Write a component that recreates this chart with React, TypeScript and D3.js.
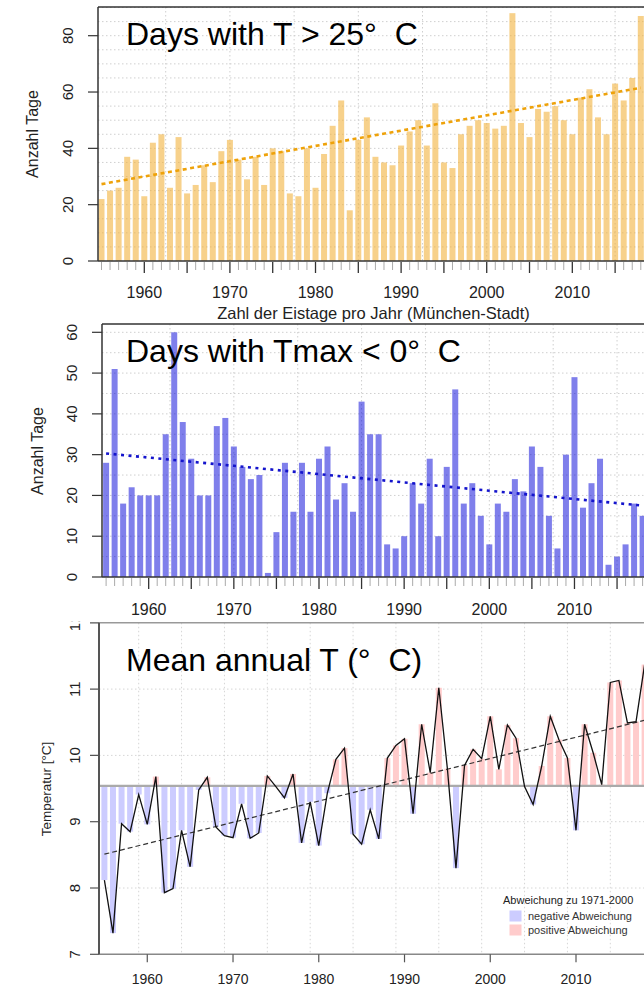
import React from "react";
import * as d3 from "d3";

// one category per year, 1955-2018
const years = d3.range(1955, 2019);

// Sommertage (T > 25 °C) per year
const hotDays = [
  22, 25, 26, 37, 36, 23, 42, 45, 26, 44,
  24, 27, 34, 28, 39, 43, 36, 29, 37, 27,
  40, 39, 24, 23, 40, 26, 38, 48, 57, 18,
  43, 51, 37, 35, 34, 41, 46, 50, 41, 56,
  35, 33, 45, 48, 50, 49, 47, 48, 88, 49,
  44, 54, 53, 55, 50, 45, 58, 61, 51, 45,
  63, 57, 65, 87,
];

// Eistage (Tmax < 0 °C) per year
const iceDays = [
  28, 51, 18, 22, 20, 20, 20, 35, 60, 38,
  29, 20, 20, 37, 39, 32, 27, 24, 25, 1,
  11, 28, 16, 28, 16, 29, 32, 19, 23, 16,
  43, 35, 35, 8, 7, 10, 23, 18, 29, 10,
  27, 46, 18, 23, 15, 8, 18, 16, 24, 21,
  32, 27, 15, 7, 30, 49, 17, 23, 29, 3,
  5, 8, 18, 15,
];

// Jahresmitteltemperatur in °C
const meanTemp = [
  8.12, 7.32, 8.97, 8.85, 9.41, 8.96, 9.68, 7.93, 7.99, 8.87,
  8.32, 9.48, 9.67, 8.92, 8.79, 8.76, 9.27, 8.75, 8.83, 9.69,
  9.53, 9.36, 9.72, 8.68, 9.3, 8.64, 9.43, 9.94, 10.11, 8.81,
  8.66, 9.18, 8.74, 9.96, 10.15, 10.25, 9.12, 10.47, 9.74, 11.02,
  9.8, 8.3, 9.85, 10.09, 9.95, 10.59, 9.79, 10.46, 10.26, 9.53,
  9.26, 9.84, 10.59, 10.24, 9.96, 8.87, 10.47, 10.04, 9.56, 11.1,
  11.13, 10.49, 10.51, 11.37,
];

// trend lines, start and end values
const trendYears = [1955, 2018];
const hotTrend = [27.3, 61.5];
const iceTrend = [30.3, 17.5];
const tempTrend = [8.51, 10.53];
const refMean = 9.54; // Mittel 1971-2000

const hotTicks = [0, 20, 40, 60, 80];
const iceTicks = [0, 10, 20, 30, 40, 50, 60];
const tempTicks = [7, 8, 9, 10, 11, 12];
const decadeLabels = [1960, 1970, 1980, 1990, 2000, 2010];

const FONT = "'Liberation Sans', Arial, Helvetica, sans-serif";
const W = 644;
const H = 987;

function BarPanel(props) {
  const {
    values, trend, ticks, title, fill, trendColor, dash,
    left, top, cx0, cx1, base, tickTop, tickTopPx,
    xLabelY, yTickX, yLabelX, yLabelMid, titleY,
  } = props;

  const x = d3.scaleLinear().domain([1955, 2018]).range([cx0, cx1]);
  const y = d3.scaleLinear().domain([0, tickTop]).range([base, tickTopPx]);
  const barW = 6;
  const hGrid = d3.range(5, y.invert(top), 5);
  const vGrid = d3.range(1962.5, 2019, 7.5);
  const line = d3
    .line<number>()
    .x((d, i) => x(trendYears[i]))
    .y((d) => y(d));

  return (
    <g fontFamily={FONT}>
      {hGrid.map((v) => (
        <line key={"h" + v} x1={left} x2={W} y1={y(v)} y2={y(v)}
          stroke="#cfcfcf" strokeWidth={1} strokeDasharray="1.5,2.5" />
      ))}
      {vGrid.map((v) => (
        <line key={"v" + v} x1={x(v)} x2={x(v)} y1={top} y2={base}
          stroke="#cfcfcf" strokeWidth={1} strokeDasharray="1.5,2.5" />
      ))}
      {years.map((yr, i) => (
        <rect key={yr} x={x(yr) - barW / 2} y={y(values[i])} width={barW}
          height={base - y(values[i])} fill={fill} />
      ))}
      <path d={line(trend) || ""} fill="none" stroke={trendColor}
        strokeWidth={2.6} strokeDasharray={dash} />
      {/* box */}
      <line x1={left} x2={left} y1={top} y2={base} stroke="#333" strokeWidth={1.5} />
      <line x1={left} x2={W} y1={top} y2={top} stroke="#333" strokeWidth={1.5} />
      <line x1={left} x2={W} y1={base} y2={base} stroke="#333" strokeWidth={1.5} />
      {/* x ticks */}
      {years.map((yr) => {
        const major = yr % 5 === 0 && yr >= 1960;
        return (
          <line key={"t" + yr} x1={x(yr)} x2={x(yr)} y1={base + 1}
            y2={base + (major ? 12 : 9)} stroke={major ? "#333" : "#aaa"}
            strokeWidth={major ? 1.3 : 1} />
        );
      })}
      {decadeLabels.map((d) => (
        <text key={"l" + d} x={x(d)} y={xLabelY} fontSize={16}
          textAnchor="middle" fill="#222">{d}</text>
      ))}
      {/* y ticks */}
      {ticks.map((t) => (
        <g key={"y" + t}>
          <line x1={left - 10} x2={left} y1={y(t)} y2={y(t)} stroke="#333" strokeWidth={1.2} />
          <text transform={`translate(${yTickX},${y(t)}) rotate(-90)`} fontSize={15}
            textAnchor="middle" fill="#222">{t}</text>
        </g>
      ))}
      <text transform={`translate(${yLabelX},${yLabelMid}) rotate(-90)`} fontSize={16}
        textAnchor="middle" fill="#222">Anzahl Tage</text>
      <text x={126} y={titleY} fontSize={32} fill="#000"
        style={{ whiteSpace: "pre" }}>{title}</text>
    </g>
  );
}

function TempPanel() {
  const left = 99;
  const x = d3.scaleLinear().domain([1955, 2018]).range([104.4, 644.6]);
  const y = d3.scaleLinear().domain([7, 12]).range([954.3, 622.8]);
  const barW = 6;
  const line = d3
    .line<number>()
    .x((d, i) => x(years[i]))
    .y((d) => y(d));
  const trendLine = d3
    .line<number>()
    .x((d, i) => x(trendYears[i]))
    .y((d) => y(d));
  const vGrid = d3.range(1959, 2019, 5);
  const hGrid = [8, 9, 10, 11];

  return (
    <g fontFamily={FONT} clipPath="url(#clip3)">
      {hGrid.map((v) => (
        <line key={"h" + v} x1={left} x2={W} y1={y(v)} y2={y(v)}
          stroke="#d6d6d6" strokeWidth={1} strokeDasharray="1.5,2.5" />
      ))}
      {vGrid.map((v) => (
        <line key={"v" + v} x1={x(v)} x2={x(v)} y1={y(12)} y2={y(7)}
          stroke="#d6d6d6" strokeWidth={1} strokeDasharray="1.5,2.5" />
      ))}
      {years.map((yr, i) => {
        const v = meanTemp[i];
        const y1 = Math.min(y(v), y(refMean));
        return (
          <rect key={yr} x={x(yr) - barW / 2} y={y1} width={barW}
            height={Math.abs(y(v) - y(refMean))}
            fill={v < refMean ? "#ccccff" : "#ffcccc"} />
        );
      })}
      <line x1={left} x2={W} y1={y(refMean)} y2={y(refMean)} stroke="#aaaaaa" strokeWidth={2.2} />
      <path d={trendLine(tempTrend) || ""} fill="none" stroke="#333" strokeWidth={1.2}
        strokeDasharray="5,3" />
      <path d={line(meanTemp) || ""} fill="none" stroke="#111" strokeWidth={1.3} />
      {/* frame */}
      <line x1={left} x2={W} y1={y(12)} y2={y(12)} stroke="#999" strokeWidth={1.5} />
      <line x1={left} x2={W} y1={y(7)} y2={y(7)} stroke="#888" strokeWidth={1.5} />
      <line x1={left} x2={left} y1={y(12)} y2={y(7)} stroke="#555" strokeWidth={2} />
      {decadeLabels.map((d) => (
        <g key={"x" + d}>
          <line x1={x(d)} x2={x(d)} y1={y(7)} y2={y(7) + 8} stroke="#555" strokeWidth={1.2} />
          <text x={x(d)} y={984} fontSize={14} textAnchor="middle" fill="#222">{d}</text>
        </g>
      ))}
      {tempTicks.map((t) => (
        <g key={"y" + t}>
          <line x1={left - 9} x2={left} y1={y(t)} y2={y(t)} stroke="#555" strokeWidth={1.2} />
          <text transform={`translate(80,${y(t)}) rotate(-90)`} fontSize={15}
            textAnchor="middle" fill="#222">{t}</text>
        </g>
      ))}
      <text transform="translate(50.5,789) rotate(-90)" fontSize={13.5}
        textAnchor="middle" fill="#222">Temperatur [°C]</text>
      <text x={126} y={671} fontSize={32} fill="#000"
        style={{ whiteSpace: "pre" }}>{"Mean annual T (°\u00a0\u00a0C)"}</text>
      {/* legend */}
      <text x={503} y={904} fontSize={11} fill="#222">Abweichung zu 1971-2000</text>
      <rect x={509.5} y={910.5} width={12} height={11} fill="#ccccff" />
      <text x={528} y={920} fontSize={11} fill="#333">negative Abweichung</text>
      <rect x={509.5} y={924.5} width={12} height={11} fill="#ffcccc" />
      <text x={528} y={934} fontSize={11} fill="#333">positive Abweichung</text>
    </g>
  );
}

export default function App() {
  return (
    <svg width={W} height={H} viewBox={`0 0 ${W} ${H}`}
      style={{ position: "absolute", left: 0, top: 0, display: "block", background: "#fff" }}>
      <defs>
        <clipPath id="clip3">
          <rect x={0} y={621.8} width={W} height={H - 621.8} />
        </clipPath>
      </defs>
      <rect width={W} height={H} fill="#fff" />
      <BarPanel
        values={hotDays} trend={hotTrend} ticks={hotTicks}
        title={"Days with T > 25°\u00a0\u00a0C"}
        fill="rgba(242,179,61,0.6)" trendColor="#eea20a" dash="4,3.5"
        left={98} top={7} cx0={101.5} cx1={640.8} base={261}
        tickTop={80} tickTopPx={35.7}
        xLabelY={298} yTickX={73.3} yLabelX={37.5} yLabelMid={134} titleY={45}
      />
      <text x={373.5} y={319} fontSize={16.5} textAnchor="middle" fill="#222"
        fontFamily={FONT}>Zahl der Eistage pro Jahr (München-Stadt)</text>
      <BarPanel
        values={iceDays} trend={iceTrend} ticks={iceTicks}
        title={"Days with Tmax < 0°\u00a0\u00a0C"}
        fill="rgba(0,0,216,0.5)" trendColor="#1414cc" dash="3,4.5"
        left={102} top={324} cx0={106.1} cx1={642.6} base={577}
        tickTop={60} tickTopPx={332.3}
        xLabelY={615} yTickX={77.3} yLabelX={42.7} yLabelMid={451} titleY={362}
      />
      <TempPanel />
    </svg>
  );
}
